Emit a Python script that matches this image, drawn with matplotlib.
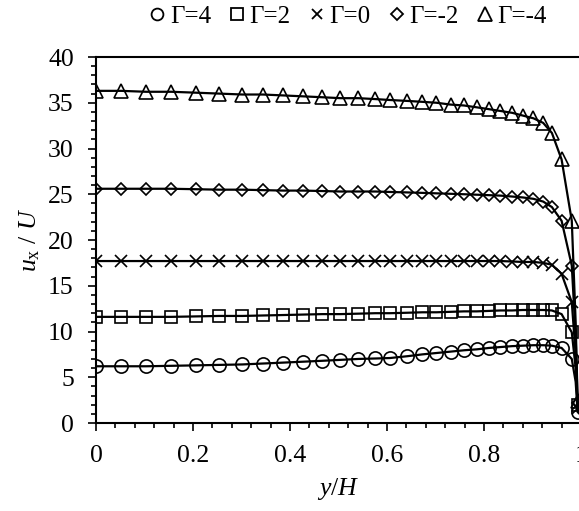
import matplotlib
matplotlib.use("Agg")
import matplotlib.pyplot as plt
from matplotlib.ticker import MultipleLocator
import numpy as np

plt.rcParams['font.family'] = ['Liberation Serif', 'DejaVu Serif']
plt.rcParams['mathtext.fontset'] = 'custom'
plt.rcParams['mathtext.rm'] = 'Liberation Serif'
plt.rcParams['mathtext.it'] = 'Liberation Serif:italic'

# marker grid (y/H)
y_H = [0, 0.052, 0.103, 0.155, 0.206, 0.254, 0.302, 0.344, 0.386, 0.427, 0.467,
       0.504, 0.541, 0.576, 0.606, 0.642, 0.673, 0.702, 0.731, 0.759, 0.785, 0.810,
       0.834, 0.858, 0.880, 0.902, 0.922, 0.940, 0.960, 0.981, 0.993]

u_g4 = [6.2, 6.2, 6.2, 6.25, 6.3, 6.35, 6.4, 6.5, 6.6, 6.7, 6.8,
        6.9, 7.0, 7.05, 7.1, 7.3, 7.5, 7.65, 7.8, 7.95, 8.05, 8.2,
        8.3, 8.4, 8.45, 8.5, 8.5, 8.45, 8.2, 7.0, 1.2]
u_g2 = [11.6, 11.6, 11.6, 11.6, 11.65, 11.7, 11.7, 11.75, 11.8, 11.85, 11.9,
        11.9, 11.95, 12.0, 12.0, 12.05, 12.1, 12.1, 12.15, 12.2, 12.2, 12.25,
        12.3, 12.3, 12.35, 12.35, 12.35, 12.3, 11.9, 9.9, 2.0]
u_g0 = [17.7, 17.7, 17.7, 17.7, 17.7, 17.7, 17.7, 17.7, 17.7, 17.7, 17.7,
        17.7, 17.7, 17.7, 17.7, 17.7, 17.7, 17.7, 17.7, 17.7, 17.7, 17.7,
        17.7, 17.65, 17.6, 17.6, 17.5, 17.3, 16.3, 13.2, 1.6]
u_gm2 = [25.6, 25.6, 25.6, 25.6, 25.55, 25.5, 25.5, 25.45, 25.4, 25.4, 25.35,
         25.3, 25.3, 25.3, 25.25, 25.2, 25.15, 25.1, 25.05, 25.0, 24.95, 24.9,
         24.85, 24.75, 24.65, 24.5, 24.2, 23.6, 22.1, 17.2, 2.2]
u_gm4 = [36.3, 36.3, 36.2, 36.2, 36.1, 36.0, 35.9, 35.9, 35.8, 35.7, 35.6,
         35.5, 35.5, 35.4, 35.3, 35.2, 35.1, 35.0, 34.8, 34.7, 34.5, 34.3,
         34.1, 33.9, 33.6, 33.3, 32.8, 31.7, 28.8, 22.1, 2.4]

# extra points of the solid curves close to the wall
wall_x = [0.989, 0.997]
wall_g4 = [4.5, 1.0]
wall_g2 = [6.0, 1.2]
wall_g0 = [7.5, 1.3]
wall_gm2 = [9.5, 1.4]
wall_gm4 = [11.0, 1.5]

labels = ['Γ=4', 'Γ=2', 'Γ=0', 'Γ=-2', 'Γ=-4']
markers = ['o', 's', 'x', 'D', '^']
msizes = [9.5, 8.5, 8, 6.5, 9.5]
leg_sizes = [8.5, 8, 7, 6.5, 9.5]
series = [u_g4, u_g2, u_g0, u_gm2, u_gm4]
walls = [wall_g4, wall_g2, wall_g0, wall_gm2, wall_gm4]

W, H = 579, 511
fig = plt.figure(figsize=(W/100, H/100), dpi=100)
ax = fig.add_axes([96/W, 1-423/H, (581-96)/W, (423-57)/H])

handles = []
for y, wl, m, ms, lms, lab in zip(series, walls, markers, msizes, leg_sizes, labels):
    pts = sorted(list(zip(y_H[:-1], y[:-1])) + list(zip(wall_x, wl)) + [(y_H[-1], y[-1])])
    lx = np.array([p[0] for p in pts])
    ly = np.array([p[1] for p in pts])
    ax.plot(lx, ly, '-', color='black', lw=1.6, zorder=2)
    ax.plot(y_H, y, linestyle='none', marker=m, ms=ms, mfc='none', mec='black',
            mew=1.2, zorder=3)
    h, = ax.plot([], [], linestyle='none', marker=m, ms=lms, mfc='none',
                 mec='black', mew=1.3, label=lab)
    handles.append(h)

ax.set_xlim(0, 1)
ax.set_ylim(0, 40)
ax.xaxis.set_major_locator(MultipleLocator(0.2))
ax.xaxis.set_minor_locator(MultipleLocator(0.04))
ax.yaxis.set_major_locator(MultipleLocator(5))
ax.yaxis.set_minor_locator(MultipleLocator(1))
ax.set_xticks([0, 0.2, 0.4, 0.6, 0.8, 1.0])
ax.set_xticklabels(['0', '0.2', '0.4', '0.6', '0.8', '1'])
ax.tick_params(which='both', direction='out', width=1.2, labelsize=18.5, colors='black')
ax.tick_params(which='major', length=6, pad=10)
ax.tick_params(which='minor', length=3.6)
for s in ax.spines.values():
    s.set_linewidth(1.5)
ax.spines['right'].set_visible(False)

ax.set_xlabel(r'$y/H$', fontsize=18.5, labelpad=6)
ax.set_ylabel(r'$u_{\rm x}$ / $U$', fontsize=18.5, labelpad=4)

fig.legend(handles=handles, loc='center', bbox_to_anchor=(349/W, 1-17/H), ncol=5,
           frameon=False, fontsize=18, handlelength=0.5, handletextpad=0.25,
           columnspacing=0.8, borderpad=0)

fig.savefig('out.png', dpi=100)
